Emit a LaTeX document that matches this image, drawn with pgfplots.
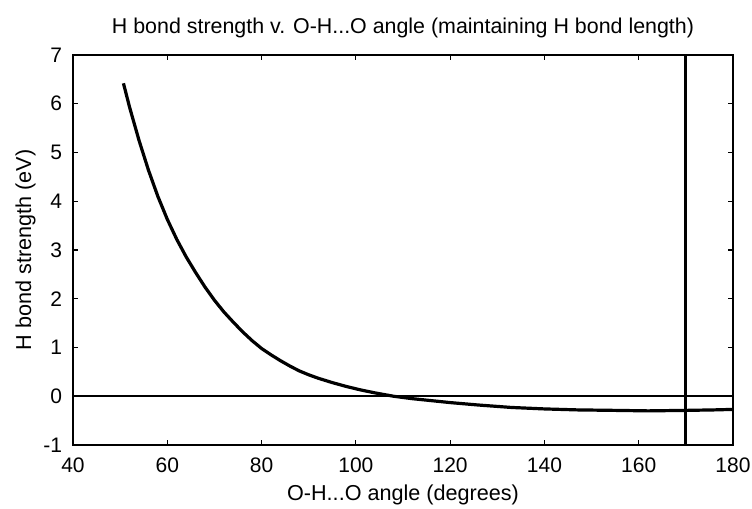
\documentclass[border=0pt]{standalone}
\usepackage{pgfplots}
\pgfplotsset{compat=1.18}
\usepackage{fontspec}
\setmainfont{Liberation Sans}
\begin{document}
\begin{tikzpicture}
\useasboundingbox (-36.5pt,-32pt) rectangle (339.5pt,222.5pt);
\begin{axis}[
  name=ax,
  at={(0,0)}, anchor=south west,
  width=330pt, height=195pt,
  scale only axis,
  xmin=40, xmax=180, ymin=-1, ymax=7,
  xtick={40,60,...,180}, ytick={-1,0,...,7},
  tick align=inside,
  major tick length=2.5pt,
  axis line style={line width=0.7pt},
  every tick/.style={black, line width=0.6pt},
  tick label style={font=\fontsize{10.5}{12}\selectfont},
  xticklabel style={yshift=-3pt},
  yticklabel style={xshift=-2pt},
  /pgf/number format/assume math mode=true,
  title={H bond strength v. O-H...O angle (maintaining H bond length)},
  title style={font=\fontsize{10.7}{12}\selectfont, yshift=-1pt},
  xlabel={O-H...O angle (degrees)},
  ylabel={H bond strength (eV)},
  label style={font=\fontsize{10.8}{12}\selectfont},
  xlabel shift=-1pt,
  ylabel shift=-3pt,
  clip=true,
]
\addplot[black, line width=1.6pt, line join=round] coordinates {
(50.7,6.42) (52,5.93) (54,5.25) (56,4.64) (58,4.10) (60,3.63)
(62,3.22) (64,2.86) (66,2.54) (68,2.24) (70,1.97) (72,1.73)
(74,1.52) (76,1.32) (78,1.14) (80,0.98) (82,0.85) (84,0.73)
(86,0.62) (88,0.52) (90,0.44) (92,0.37) (95,0.28) (98,0.20)
(101,0.13) (104,0.07) (108,0.0) (112,-0.05) (116,-0.09) (120,-0.13)
(126,-0.18) (133,-0.23) (140,-0.26) (147,-0.28) (155,-0.29)
(162,-0.30) (170,-0.29) (176,-0.28) (180,-0.27)
};
\addplot[black, line width=1.1pt] coordinates {(40,0) (180,0)};
\addplot[black, line width=1.4pt] coordinates {(170,-1) (170,7)};
\end{axis}
\end{tikzpicture}
\end{document}
